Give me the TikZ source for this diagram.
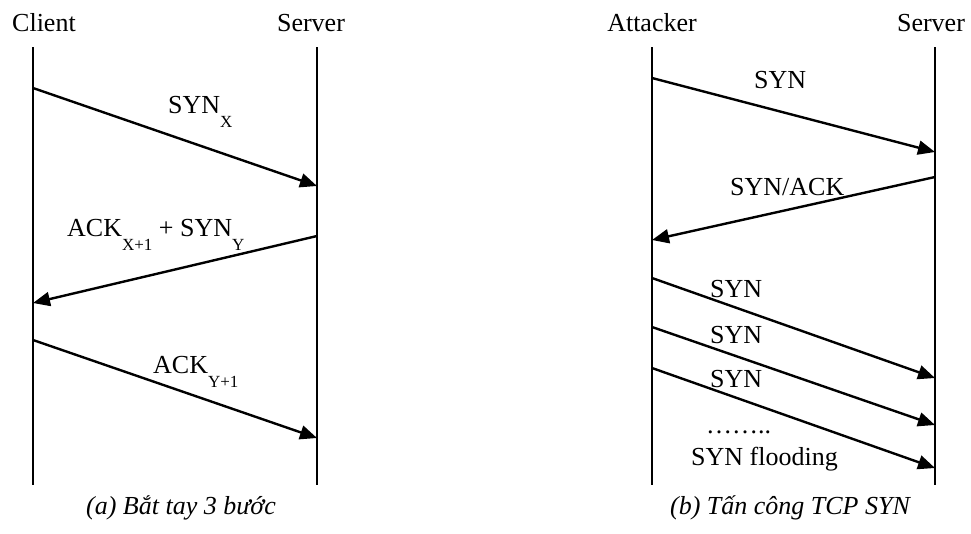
\documentclass[tikz,border=0pt]{standalone}
\usepackage{fontspec}
\setmainfont{Liberation Serif}
\usetikzlibrary{arrows.meta}
% subscript set well below the baseline
\newcommand{\lowsub}[1]{\raisebox{-14pt}{\fontsize{17}{17}\selectfont #1}}
\begin{document}
\begin{tikzpicture}[x=1pt,y=-1pt,
  lifeline/.style={line width=1.9pt},
  msg/.style={line width=2.4pt,-{Triangle[length=17pt,width=14pt]}},
  lbl/.style={font=\fontsize{26}{30}\selectfont, inner sep=0pt, anchor=base west},
  actor/.style={font=\fontsize{26}{30}\selectfont, inner sep=0pt, anchor=base},
  capt/.style={font=\fontsize{26}{30}\selectfont\itshape, inner sep=0pt, anchor=base}]
\useasboundingbox (0,0) rectangle (971,533);

% ---------- (a) three-way handshake ----------
\node[lbl] (client) at (12,31) {Client};
\node[actor] (serverA) at (311,31) {Server};
\coordinate (ctop) at (33,47);  \coordinate (cbot) at (33,485);
\coordinate (stop) at (317,47); \coordinate (sbot) at (317,485);
\draw[lifeline] (ctop) -- (cbot);
\draw[lifeline] (stop) -- (sbot);

\coordinate (a1s) at (33,88);   \coordinate (a1e) at (317,186);
\coordinate (a2s) at (317,236); \coordinate (a2e) at (33,303);
\coordinate (a3s) at (33,340);  \coordinate (a3e) at (317,438);
\draw[msg] (a1s) -- (a1e);
\draw[msg] (a2s) -- (a2e);
\draw[msg] (a3s) -- (a3e);

\node[lbl] (synx) at (168,113) {SYN\lowsub{X}};
\node[lbl] (acksyn) at (67,236) {ACK\lowsub{X+1} + SYN\lowsub{Y}};
\node[lbl] (acky) at (153,373) {ACK\lowsub{Y+1}};

\node[capt] (capa) at (181,514) {(a) Bắt tay 3 bước};

% ---------- (b) TCP SYN flood ----------
\node[actor] (attacker) at (652,31) {Attacker};
\node[actor] (serverB) at (931,31) {Server};
\coordinate (ttop) at (652,47);  \coordinate (tbot) at (652,485);
\coordinate (vtop) at (935,47);  \coordinate (vbot) at (935,485);
\draw[lifeline] (ttop) -- (tbot);
\draw[lifeline] (vtop) -- (vbot);

\coordinate (b1s) at (652,78);  \coordinate (b1e) at (935,152);
\coordinate (b2s) at (935,177); \coordinate (b2e) at (652,240);
\coordinate (b3s) at (652,278); \coordinate (b3e) at (935,378);
\coordinate (b4s) at (652,327); \coordinate (b4e) at (935,425);
\coordinate (b5s) at (652,368); \coordinate (b5e) at (935,468);
\draw[msg] (b1s) -- (b1e);
\draw[msg] (b2s) -- (b2e);
\draw[msg] (b3s) -- (b3e);
\draw[msg] (b4s) -- (b4e);
\draw[msg] (b5s) -- (b5e);

\node[lbl] (syn1) at (754,88) {SYN};
\node[lbl] (synack) at (730,195) {SYN/ACK};
\node[lbl] (syn2) at (710,297) {SYN};
\node[lbl] (syn3) at (710,343) {SYN};
\node[lbl] (syn4) at (710,387) {SYN};
\node[lbl] (dots) at (706,433) {……..};
\node[lbl] (flood) at (691,465) {SYN flooding};

\node[capt] (capb) at (790,514) {(b) Tấn công TCP SYN};
\end{tikzpicture}
\end{document}
